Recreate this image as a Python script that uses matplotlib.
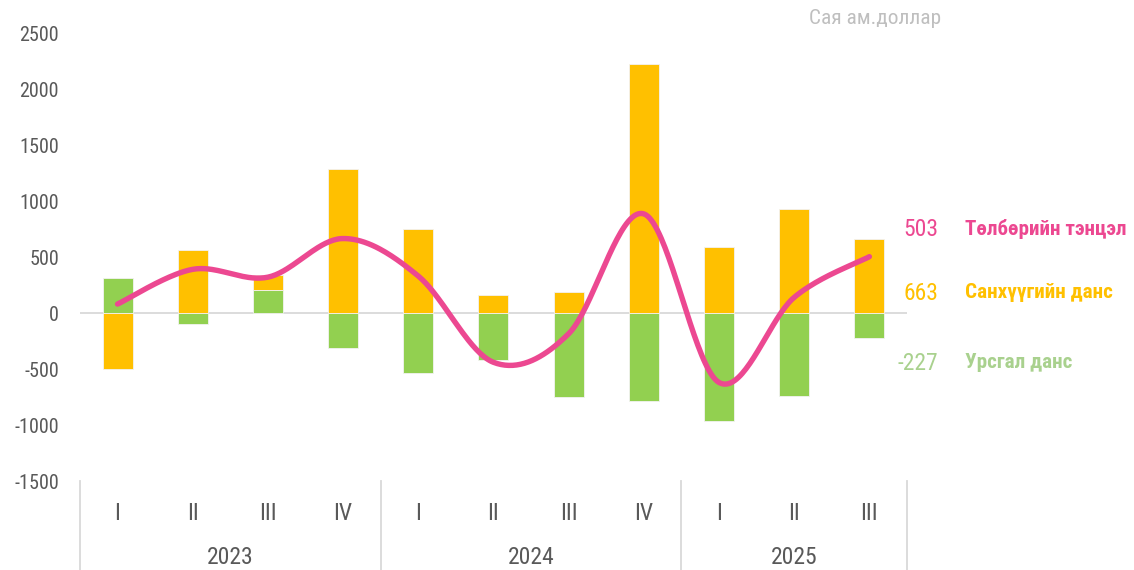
import numpy as np
import matplotlib.pyplot as plt

plt.rcParams['font.family'] = ['Roboto Condensed', 'Roboto', 'DejaVu Sans']
plt.rcParams['axes.unicode_minus'] = False

quarters = ["I", "II", "III", "IV", "I", "II", "III", "IV", "I", "II", "III"]
years = ["2023", "2024", "2025"]
year_len = [4, 4, 3]

# Урсгал данс (current account), Санхүүгийн данс (financial account), Төлбөрийн тэнцэл
current = [312, -95, 205, -310, -538, -420, -747, -789, -961, -741, -227]
financial = [-504, 560, 131, 1286, 750, 164, 185, 2223, 592, 929, 663]
balance = [80, 390, 320, 665, 330, -440, -185, 885, -620, 140, 503]

c_green = "#92D050"
c_orange = "#FFC000"
c_pink = "#EC4891"
c_grey = "#595959"


def smooth(x, y, n=40):
    # Excel-like smoothed line (Catmull-Rom bezier)
    x = np.asarray(x, float)
    y = np.asarray(y, float)
    px = np.concatenate([[x[0]], x, [x[-1]]])
    py = np.concatenate([[y[0]], y, [y[-1]]])
    xs, ys = [], []
    t = np.linspace(0, 1, n)
    for i in range(1, len(px) - 2):
        p0 = np.array([px[i], py[i]])
        p3 = np.array([px[i + 1], py[i + 1]])
        p1 = p0 + (np.array([px[i + 1], py[i + 1]]) - np.array([px[i - 1], py[i - 1]])) / 6
        p2 = p3 - (np.array([px[i + 2], py[i + 2]]) - np.array([px[i], py[i]])) / 6
        b = ((1 - t) ** 3)[:, None] * p0 + (3 * (1 - t) ** 2 * t)[:, None] * p1 \
            + (3 * (1 - t) * t ** 2)[:, None] * p2 + (t ** 3)[:, None] * p3
        xs.extend(b[:, 0])
        ys.extend(b[:, 1])
    return np.array(xs), np.array(ys)


fig = plt.figure(figsize=(11.34, 5.7), dpi=100)
ax = fig.add_axes([0.0705, 0.1561, 0.7293, 0.786])

x = np.arange(len(quarters))
cur = np.array(current, float)
fin = np.array(financial, float)
pos_base = np.zeros(len(x))
neg_base = np.zeros(len(x))

cur_bottom = np.where(cur >= 0, pos_base, neg_base)
ax.bar(x, cur, 0.4, bottom=cur_bottom, color=c_green, edgecolor="#F2F2F2", linewidth=0.6, zorder=2)
pos_base = pos_base + np.where(cur > 0, cur, 0)
neg_base = neg_base + np.where(cur < 0, cur, 0)
fin_bottom = np.where(fin >= 0, pos_base, neg_base)
ax.bar(x, fin, 0.4, bottom=fin_bottom, color=c_orange, edgecolor="#F2F2F2", linewidth=0.6, zorder=2)

sx, sy = smooth(x, balance)
ax.plot(sx, sy, color=c_pink, lw=3.9, solid_capstyle="round", zorder=3)

ax.axhline(0, color="#D9D9D9", lw=1.3, zorder=1)
ax.set_xlim(-0.5, 10.5)
ax.set_ylim(-1500, 2500)
ax.set_yticks(range(-1500, 2501, 500))
ax.tick_params(axis="y", length=0, pad=15, labelsize=14.5, labelcolor=c_grey)
ax.set_xticks([])
for s in ax.spines.values():
    s.set_visible(False)

# multi-level category axis
trans = ax.get_xaxis_transform()
for i, q in enumerate(quarters):
    ax.text(i, -0.072, q, transform=trans, ha="center", va="center",
            fontsize=17, color=c_grey)
start = 0
for yr, n in zip(years, year_len):
    ax.text(start + (n - 1) / 2, -0.17, yr, transform=trans, ha="center",
            va="center", fontsize=17, color=c_grey)
    start += n
bounds = np.concatenate([[0], np.cumsum(year_len)]) - 0.5
for b in bounds:
    ax.plot([b, b], [0, -0.2], transform=trans, color="#D9D9D9", lw=1.3, clip_on=False)

fig.text(0.8298, 0.968, "Сая ам.доллар", ha="right", va="center", fontsize=15.4, color="#BFBFBF")

labels = [("503", "Төлбөрийн тэнцэл", c_pink, c_pink, 229),
          ("663", "Санхүүгийн данс", c_orange, c_orange, 293),
          ("-227", "Урсгал данс", "#A9D18E", "#A9D18E", 363)]
for val, name, c1, c2, ypx in labels:
    fig.text(938 / 1134, 1 - ypx / 570, val, ha="right", va="center", fontsize=17, color=c1)
    fig.text(965 / 1134, 1 - ypx / 570, name, ha="left", va="center", fontsize=15.2,
             color=c2, fontweight="bold")

fig.savefig("out.png", dpi=100)
